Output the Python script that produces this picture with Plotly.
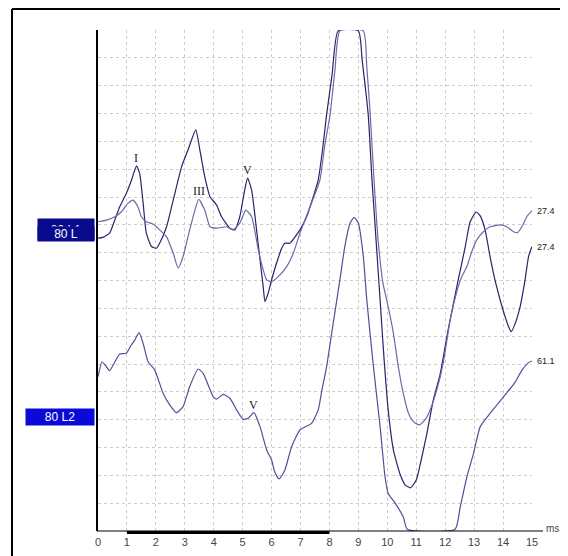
import plotly.graph_objects as go

# ---------------- data (latency in ms, amplitude in grid divisions) ----------------
l_ms = [0, 0.17, 0.40, 0.58, 0.75, 0.98, 1.16, 1.33, 1.44, 1.56, 1.67, 1.85, 2.02, 2.13, 2.37,
        2.60, 2.89, 3.11, 3.38, 3.52, 3.69, 3.87, 4.10, 4.27, 4.56, 4.73, 4.90, 5.07, 5.17,
        5.31, 5.48, 5.60, 5.71, 5.77, 5.88, 6.00, 6.17, 6.35, 6.46, 6.63, 6.81, 6.98, 7.21,
        7.44, 7.61, 7.76, 7.90, 8.09, 8.30, 9.00, 9.13, 9.34, 9.47, 9.61, 9.75, 9.89, 10.03,
        10.21, 10.45, 10.62, 10.80, 11.00, 11.17, 11.37, 11.59, 11.82, 12.10, 12.45, 12.69,
        12.86, 13.07, 13.21, 13.38, 13.55, 13.72, 13.90, 14.07, 14.19, 14.28, 14.42, 14.59,
        14.76, 14.88, 15.0]
l_amp = [10.52, 10.55, 10.70, 11.17, 11.65, 12.13, 12.61, 13.12, 12.85, 11.78, 10.70, 10.22,
         10.16, 10.34, 10.93, 11.89, 13.09, 13.69, 14.41, 13.69, 12.73, 12.01, 11.71, 11.29,
         10.88, 10.82, 11.29, 12.25, 12.68, 12.25, 10.82, 9.74, 8.77, 8.24, 8.54, 9.02, 9.62,
         10.16, 10.34, 10.34, 10.57, 10.82, 11.29, 12.01, 12.61, 13.69, 14.95, 16.39, 17.97,
         17.97, 16.92, 14.95, 12.61, 10.46, 8.30, 6.14, 4.35, 2.91, 2.01, 1.65, 1.55, 1.83,
         2.55, 3.52, 4.71, 5.61, 7.22, 9.02, 10.20, 11.10, 11.46, 11.32, 10.82, 9.86, 9.02,
         8.30, 7.70, 7.34, 7.16, 7.46, 8.06, 9.02, 9.86, 10.22]

l1_ms = [0, 0.29, 0.58, 0.81, 1.04, 1.21, 1.38, 1.50, 1.67, 1.90, 2.13, 2.37, 2.60, 2.77, 2.94,
         3.17, 3.35, 3.48, 3.69, 3.87, 4.10, 4.44, 4.67, 4.90, 5.11, 5.31, 5.54, 5.71, 5.83,
         6.00, 6.23, 6.52, 6.75, 6.98, 7.33, 7.67, 7.84, 8.02, 8.19, 8.36, 9.17, 9.29, 9.41,
         9.54, 9.68, 9.85, 9.98, 10.21, 10.38, 10.55, 10.73, 10.90, 11.10, 11.30, 11.48, 11.71,
         11.94, 12.17, 12.40, 12.57, 12.75, 12.92, 13.09, 13.32, 13.55, 13.90, 14.13, 14.36,
         14.50, 14.65, 14.82, 15.0]
l1_amp = [11.11, 11.17, 11.29, 11.47, 11.78, 11.89, 11.65, 11.29, 11.11, 11.03, 10.82, 10.57,
          9.98, 9.44, 9.86, 10.82, 11.53, 11.92, 11.53, 10.93, 10.88, 10.93, 10.82, 11.06, 11.53,
          11.29, 10.10, 9.38, 9.02, 8.96, 9.14, 9.50, 9.98, 10.70, 11.65, 12.61, 13.87, 14.95,
          16.56, 17.97, 17.97, 16.68, 14.95, 12.61, 10.46, 8.90, 8.30, 7.10, 5.90, 4.95, 4.23,
          3.93, 3.81, 3.99, 4.35, 5.07, 6.07, 7.58, 8.59, 9.13, 9.50, 10.04, 10.46, 10.75, 10.93,
          11.00, 10.93, 10.75, 10.72, 10.93, 11.29, 11.51]

l2_ms = [0, 0.14, 0.27, 0.40, 0.58, 0.75, 0.98, 1.13, 1.27, 1.42, 1.56, 1.73, 1.96, 2.25, 2.48,
         2.71, 2.94, 3.17, 3.46, 3.63, 3.98, 4.10, 4.33, 4.56, 4.79, 5.02, 5.19, 5.39, 5.60,
         5.83, 6.00, 6.11, 6.26, 6.46, 6.69, 6.98, 7.38, 7.61, 7.74, 7.90, 8.13, 8.36, 8.53,
         8.71, 8.85, 9.00, 9.17, 9.29, 9.52, 9.75, 9.92, 10.03, 10.27, 10.55, 10.69, 12.34,
         12.52, 12.75, 12.98, 13.21, 13.56, 14.07, 14.42, 14.66, 14.87, 15.0]
l2_amp = [5.54, 6.08, 5.93, 5.76, 6.07, 6.36, 6.39, 6.65, 6.86, 7.13, 6.74, 6.08, 5.79, 4.95,
          4.53, 4.25, 4.47, 5.19, 5.82, 5.67, 4.83, 4.74, 4.91, 4.77, 4.35, 4.01, 4.05, 4.25,
          3.75, 2.91, 2.55, 2.12, 1.87, 2.19, 3.03, 3.63, 3.87, 4.35, 5.07, 5.90, 7.47, 9.02,
          10.22, 11.06, 11.27, 11.06, 9.86, 8.30, 5.90, 3.75, 1.95, 1.35, 1.00, 0.51, 0.06,
          0.06, 0.87, 1.95, 2.79, 3.75, 4.24, 4.89, 5.35, 5.79, 6.04, 6.11]

x_ticks = list(range(0, 16))
end_labels = ["27.4", "27.4", "61.1"]
peak_names = ["I", "III", "V", "V"]
peak_ms = [1.33, 3.48, 5.17, 5.39]
peak_amp = [13.12, 11.92, 12.68, 4.25]
channel_names = ["80 L1", "80 L", "80 L2"]
window_ms = [1, 8]

# ---------------- layout geometry ----------------
# the page body has an 8px margin, so the figure is drawn at (8, 8)
OFF = 8
W, H = 568 - OFF, 556 - OFF
ML, MR, MT, MB = 90, 36, 22, 25
PW, PH = W - ML - MR, H - MT - MB


def xp(px):  # window pixel -> paper x
    return (px - OFF - ML) / PW


def yp(py):  # window pixel -> paper y
    return (H - MB - (py - OFF)) / PH


C_DARK = "#25256a"
C_LIGHT = "#6a6aa8"
C_L2 = "#50509a"

fig = go.Figure()
for xs, ys, col in [(l_ms, l_amp, C_DARK), (l1_ms, l1_amp, C_LIGHT), (l2_ms, l2_amp, C_L2)]:
    fig.add_trace(go.Scatter(x=xs, y=ys, mode="lines",
                             line=dict(color=col, width=1.2, shape="spline", smoothing=0.5),
                             hoverinfo="skip", showlegend=False))

annotations = []
# end values
for ys, lab in zip([l1_amp, l_amp, l2_amp], end_labels):
    annotations.append(dict(x=15, y=ys[-1], xref="x", yref="y", text=lab, showarrow=False,
                            xanchor="left", yanchor="middle", xshift=3,
                            font=dict(family="Arial, Liberation Sans", size=9, color="#222")))
# peak labels
for name, xm, am in zip(peak_names, peak_ms, peak_amp):
    annotations.append(dict(x=xm, y=am, xref="x", yref="y", text=name, showarrow=False,
                            xanchor="center", yanchor="bottom", yshift=-1,
                            font=dict(family="Liberation Serif, Times New Roman, serif",
                                      size=12, color="#222")))
# channel boxes
annotations.append(dict(x=xp(94.5), y=yp(229.5), xref="paper", yref="paper",
                        text=channel_names[0], showarrow=False, xanchor="right", yanchor="middle",
                        width=56, height=21, borderpad=0, bgcolor="#0a0a8e",
                        font=dict(family="Arial, Liberation Sans", size=12, color="white")))
annotations.append(dict(x=xp(94.5), y=yp(234), xref="paper", yref="paper",
                        text=channel_names[1], showarrow=False, xanchor="right", yanchor="middle",
                        width=56, height=14, borderpad=0, bgcolor="#0a0a8e",
                        font=dict(family="Arial, Liberation Sans", size=12, color="white")))
annotations.append(dict(x=xp(94.5), y=yp(417), xref="paper", yref="paper",
                        text=channel_names[2], showarrow=False, xanchor="right", yanchor="middle",
                        width=68, height=16, borderpad=0, bgcolor="#0a0ad8",
                        font=dict(family="Arial, Liberation Sans", size=12, color="white")))
# unit label
annotations.append(dict(x=xp(544), y=yp(528), xref="paper", yref="paper", text="ms",
                        showarrow=False, xanchor="left", yanchor="middle",
                        font=dict(family="Arial, Liberation Sans", size=10, color="#444")))

shapes = [
    # x axis line (extends past plot)
    dict(type="line", xref="paper", yref="paper", x0=xp(97), x1=xp(543), y0=0, y1=0,
         line=dict(color="black", width=1.2)),
    # analysis window bar
    dict(type="line", xref="x", yref="paper", x0=window_ms[0], x1=window_ms[1],
         y0=yp(532.5), y1=yp(532.5), line=dict(color="black", width=3)),
    # outer frame (top and left)
    dict(type="line", xref="paper", yref="paper", x0=xp(12), x1=xp(580), y0=yp(9), y1=yp(9),
         line=dict(color="black", width=2)),
    dict(type="line", xref="paper", yref="paper", x0=xp(12), x1=xp(12), y0=yp(9), y1=yp(570),
         line=dict(color="black", width=2)),
]

grid = dict(showgrid=True, gridcolor="#cdcdcd", gridwidth=1, griddash="3px,3px", zeroline=False)

fig.update_layout(
    width=W, height=H, autosize=False,
    margin=dict(l=ML, r=MR, t=MT, b=MB, pad=0),
    paper_bgcolor="white", plot_bgcolor="white",
    xaxis=dict(range=[0, 15], tickvals=x_ticks, ticktext=[str(t) for t in x_ticks],
               showline=False, ticks="", ticklabelstandoff=3, automargin=False,
               tickfont=dict(family="Arial, Liberation Sans", size=11, color="#444"),
               fixedrange=True, **grid),
    yaxis=dict(range=[0, 18], dtick=1, showticklabels=False, ticks="", automargin=False,
               showline=True, linecolor="black", linewidth=1.5, fixedrange=True, **grid),
    annotations=annotations, shapes=shapes,
)

fig.write_html("out.html")
